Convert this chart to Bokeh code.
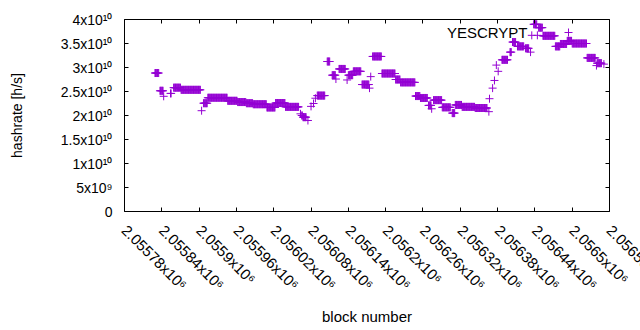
import numpy as np
from bokeh.plotting import figure
from bokeh.models import (FixedTicker, Label, Legend, LegendItem, LinearAxis,
                          Range1d, ColumnDataSource)
from bokeh.embed import file_html
from bokeh.resources import INLINE

# Runs of constant hashrate estimate: first block, last block, hashrate [h/s]
run_first = [2055829, 2055837, 2055843, 2055854, 2055859, 2055871, 2055904, 2055907,
             2055914, 2055946, 2055962, 2055976, 2055987, 2056009, 2056023, 2056039,
             2056063, 2056065, 2056067, 2056075, 2056080, 2056084, 2056087, 2056090,
             2056106, 2056114, 2056120, 2056125, 2056138, 2056140, 2056148, 2056162,
             2056174, 2056176, 2056179, 2056194, 2056216, 2056224, 2056248, 2056256,
             2056269, 2056274, 2056277, 2056291, 2056307, 2056312, 2056323, 2056344,
             2056366, 2056367, 2056372, 2056375, 2056378, 2056381, 2056387, 2056400,
             2056404, 2056412, 2056425, 2056433, 2056435, 2056438, 2056444, 2056446,
             2056453, 2056473, 2056481, 2056492, 2056500, 2056524, 2056539, 2056540,
             2056551]
run_last = [2055835, 2055842, 2055843, 2055855, 2055870, 2055902, 2055904, 2055913,
            2055945, 2055961, 2055975, 2055986, 2056008, 2056022, 2056038, 2056060,
            2056063, 2056066, 2056072, 2056075, 2056080, 2056084, 2056087, 2056102,
            2056110, 2056119, 2056120, 2056135, 2056138, 2056147, 2056160, 2056173,
            2056174, 2056176, 2056193, 2056215, 2056223, 2056247, 2056255, 2056267,
            2056273, 2056274, 2056290, 2056304, 2056311, 2056322, 2056343, 2056363,
            2056366, 2056367, 2056372, 2056375, 2056378, 2056381, 2056396, 2056402,
            2056409, 2056422, 2056430, 2056433, 2056435, 2056443, 2056444, 2056452,
            2056472, 2056480, 2056491, 2056499, 2056523, 2056537, 2056539, 2056547,
            2056551]
run_hashrate = [2.885e10, 2.515e10, 2.40e10, 2.46e10, 2.58e10, 2.535e10, 2.10e10, 2.256e10,
                2.37e10, 2.306e10, 2.28e10, 2.256e10, 2.235e10, 2.167e10, 2.26e10, 2.18e10,
                2.035e10, 2.0e10, 1.965e10, 1.896e10, 2.19e10, 2.25e10, 2.36e10, 2.415e10,
                3.125e10, 2.84e10, 2.76e10, 2.97e10, 2.74e10, 2.84e10, 2.92e10, 2.645e10,
                2.57e10, 2.81e10, 3.23e10, 2.875e10, 2.75e10, 2.69e10, 2.405e10, 2.365e10,
                2.21e10, 2.14e10, 2.32e10, 2.17e10, 2.05e10, 2.22e10, 2.18e10, 2.156e10,
                2.08e10, 2.35e10, 2.57e10, 2.73e10, 3.05e10, 2.92e10, 3.16e10, 3.32e10,
                3.53e10, 3.44e10, 3.40e10, 3.32e10, 3.67e10, 3.90e10, 3.67e10, 3.83e10,
                3.66e10, 3.44e10, 3.49e10, 3.555e10, 3.50e10, 3.20e10, 3.04e10, 3.09e10,
                3.07e10]

x_ticks = [2055780, 2055840, 2055900, 2055960, 2056020, 2056080, 2056140,
           2056200, 2056260, 2056320, 2056380, 2056440, 2056500, 2056560]
x_tick_labels = ["2.05578x10⁶", "2.05584x10⁶", "2.0559x10⁶", "2.05596x10⁶",
                 "2.05602x10⁶", "2.05608x10⁶", "2.05614x10⁶", "2.0562x10⁶",
                 "2.05626x10⁶", "2.05632x10⁶", "2.05638x10⁶", "2.05644x10⁶",
                 "2.0565x10⁶", "2.05656x10⁶"]
y_ticks = [0, 5e9, 1e10, 1.5e10, 2e10, 2.5e10, 3e10, 3.5e10, 4e10]
y_tick_labels = ["0", "5x10⁹", "1x10¹⁰", "1.5x10¹⁰", "2x10¹⁰", "2.5x10¹⁰",
                 "3x10¹⁰", "3.5x10¹⁰", "4x10¹⁰"]

blocks = []
hashrate = []
for a, b, v in zip(run_first, run_last, run_hashrate):
    for blk in range(a, b + 1):
        blocks.append(blk)
        hashrate.append(v)

src = ColumnDataSource(dict(block=blocks, hashrate=hashrate))

FONT = "Liberation Sans"
COLOR = "#9400d3"

p = figure(width=640, height=330, output_backend="svg", toolbar_location=None,
           x_range=Range1d(x_ticks[0], x_ticks[-1]), y_range=Range1d(y_ticks[0], y_ticks[-1]),
           min_border_left=124, min_border_right=31, min_border_top=19, min_border_bottom=119,
           x_axis_location=None, y_axis_location=None)
p.grid.visible = False
p.outline_line_color = "black"
p.outline_line_width = 1
p.background_fill_color = "white"
p.border_fill_color = "white"

r = p.scatter("block", "hashrate", source=src, marker="cross", size=8,
              line_color=COLOR, line_width=1)

# Bokeh nudges the first and last tick label (in ticker order) inside the canvas; listing the
# right-most tick second keeps it at its tick, so it is cut by the page edge as in the original.
bottom_ticks = [x_ticks[0], x_ticks[-1]] + x_ticks[1:-1]
bottom = LinearAxis(axis_label="block number", ticker=FixedTicker(ticks=bottom_ticks),
                    major_label_overrides={t: l for t, l in zip(x_ticks, x_tick_labels)})
left = LinearAxis(axis_label="hashrate [h/s]", ticker=FixedTicker(ticks=y_ticks),
                  major_label_overrides={t: l for t, l in zip(y_ticks, y_tick_labels)})
top = LinearAxis(ticker=FixedTicker(ticks=x_ticks))
right = LinearAxis(ticker=FixedTicker(ticks=y_ticks))
p.add_layout(bottom, "below")
p.add_layout(left, "left")
p.add_layout(top, "above")
p.add_layout(right, "right")

for ax in [bottom, left, top, right]:
    ax.axis_line_color = None
    ax.major_tick_in = 4
    ax.major_tick_out = 0
    ax.major_tick_line_color = "black"
    ax.minor_tick_line_color = None
    ax.major_label_text_font = FONT
    ax.major_label_text_font_size = "14px"
    ax.major_label_text_color = "black"
    ax.axis_label_text_font = FONT
    ax.axis_label_text_font_size = "15px"
    ax.axis_label_text_font_style = "normal"
    ax.axis_label_text_color = "black"

for ax in [top, right]:
    ax.major_label_text_font_size = "0px"
    ax.major_label_text_alpha = 0
    ax.major_label_standoff = 0

bottom.major_label_orientation = -np.pi / 4
bottom.major_label_text_font_size = "15px"
bottom.major_label_standoff = 16
bottom.axis_label_standoff = 6
left.major_label_standoff = 12
left.axis_label_standoff = 33
left.axis_label_text_font_size = "14px"

p.add_layout(Label(x=403, y=179, x_units="screen", y_units="screen", text="YESCRYPT",
                   text_align="right", text_baseline="middle", text_font=FONT,
                   text_font_size="15px", text_color="black"))

legend = Legend(items=[LegendItem(label=" ", renderers=[r])], location=(434, 169),
                padding=0, margin=0, spacing=0, glyph_width=20, glyph_height=20,
                label_width=1, label_standoff=0, label_text_font_size="1px",
                background_fill_alpha=0, border_line_color=None)
p.add_layout(legend)

open("out.html", "w").write(file_html(p, INLINE))
